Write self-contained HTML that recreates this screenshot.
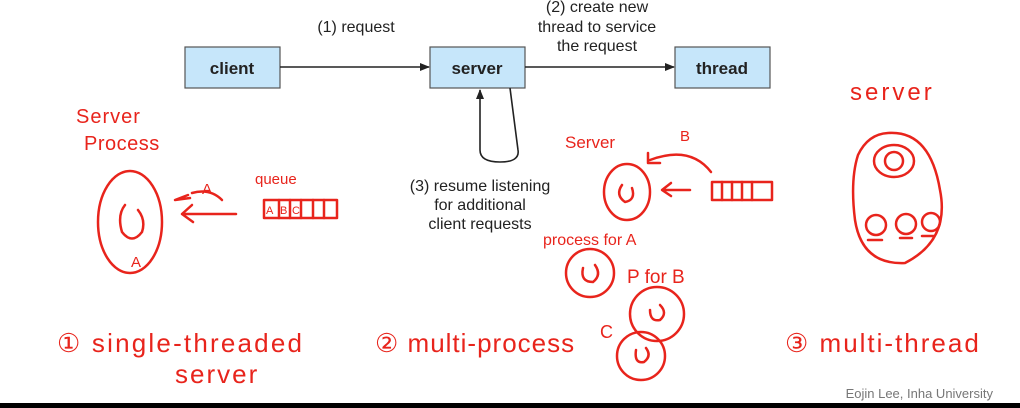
<!DOCTYPE html>
<html><head><meta charset="utf-8"><style>
html,body{margin:0;padding:0;background:#fff}
svg{display:block}
.t{font-family:"Liberation Sans",sans-serif;fill:#222}
.h{font-family:"Liberation Sans",sans-serif;fill:#e8241c;font-weight:normal}
.r{fill:none;stroke:#e8241c;stroke-width:2.5;stroke-linecap:round;stroke-linejoin:round}
</style></head><body>
<svg width="1020" height="408" viewBox="0 0 1020 408" xmlns="http://www.w3.org/2000/svg">
<defs><marker id="ar" markerWidth="10" markerHeight="8" refX="9" refY="4" orient="auto" markerUnits="userSpaceOnUse"><path d="M0,0 L10,4 L0,8 z" fill="#222"/></marker></defs>
<rect x="0" y="0" width="1020" height="408" fill="#fff"/>
<rect x="185" y="47" width="95" height="41" fill="#c6e6fa" stroke="#555" stroke-width="1.2"/>
<rect x="430" y="47" width="95" height="41" fill="#c6e6fa" stroke="#555" stroke-width="1.2"/>
<rect x="675" y="47" width="95" height="41" fill="#c6e6fa" stroke="#555" stroke-width="1.2"/>
<text class="t" x="232" y="74" font-size="17" font-weight="bold" text-anchor="middle">client</text>
<text class="t" x="477" y="74" font-size="17" font-weight="bold" text-anchor="middle">server</text>
<text class="t" x="722" y="74" font-size="17" font-weight="bold" text-anchor="middle">thread</text>
<line x1="280" y1="67" x2="429" y2="67" stroke="#222" stroke-width="1.6" marker-end="url(#ar)"/>
<line x1="525" y1="67" x2="674" y2="67" stroke="#222" stroke-width="1.6" marker-end="url(#ar)"/>
<path d="M510,88 L518,150 Q520,162 500,162 Q480,162 480,150 L480,90" fill="none" stroke="#222" stroke-width="1.6" marker-end="url(#ar)"/>
<g class="t" font-size="16" text-anchor="middle">
<text x="356" y="32">(1) request</text>
<text x="597" y="12">(2) create new</text>
<text x="597" y="32">thread to service</text>
<text x="597" y="51">the request</text>
<text x="480" y="191">(3) resume listening</text>
<text x="480" y="210">for additional</text>
<text x="480" y="229">client requests</text>
</g>
<g class="h" font-size="19">
<text x="76" y="123" font-size="20" letter-spacing="1">Server</text>
<text x="84" y="150" font-size="20" letter-spacing="0.5">Process</text>
<text x="255" y="184" font-size="15">queue</text>
<text x="202" y="194" font-size="15">A</text>
<text x="131" y="267" font-size="15">A</text>
<text x="57" y="352" font-size="26" letter-spacing="2.2">① single-threaded</text>
<text x="175" y="383" font-size="26" letter-spacing="2">server</text>
<text x="375" y="352" font-size="26" letter-spacing="1">② multi-process</text>
<text x="565" y="148" font-size="17">Server</text>
<text x="680" y="141" font-size="15">B</text>
<text x="543" y="245" font-size="16">process for A</text>
<text x="627" y="283" font-size="19">P for B</text>
<text x="600" y="338" font-size="18">C</text>
<text x="850" y="100" font-size="24" letter-spacing="3">server</text>
<text x="785" y="352" font-size="26" letter-spacing="2">③ multi-thread</text>
</g>
<ellipse class="r" cx="130" cy="222" rx="32" ry="51"/>
<path class="r" d="M125,205 Q117,215 122,232 Q132,245 142,232 Q146,220 138,210"/>
<path class="r" d="M236,214 L182,214 M192,205 L182,214 L193,222"/>
<path class="r" d="M190,198 L175,200 L188,195 M222,200 Q210,188 192,193"/>
<rect class="r" x="264" y="200" width="73" height="18" fill="none"/>
<path class="r" d="M279,200 V218 M290,200 V218 M301,200 V218 M313,200 V218 M324,200 V218"/>
<g class="h" font-size="11"><text x="266" y="214">A</text><text x="280" y="214">B</text><text x="292" y="214">C</text></g>
<ellipse class="r" cx="627" cy="192" rx="23" ry="28"/>
<path class="r" d="M622,185 Q615,195 625,202 Q636,200 632,188"/>
<path class="r" d="M690,190 L663,190 M671,183 L662,190 L671,196"/>
<rect class="r" x="712" y="182" width="60" height="18" fill="none"/>
<path class="r" d="M722,182 V200 M732,182 V200 M742,182 V200 M752,182 V200"/>
<path class="r" d="M711,172 Q690,145 650,160 M648,153 L648,163 L660,163"/>
<circle class="r" cx="590" cy="273" r="24"/>
<path class="r" d="M583,268 Q580,282 593,282 Q602,275 595,265"/>
<circle class="r" cx="657" cy="314" r="27"/>
<path class="r" d="M650,310 Q650,322 660,320 Q668,313 660,305"/>
<circle class="r" cx="641" cy="356" r="24"/>
<path class="r" d="M636,350 Q634,364 644,362 Q652,356 646,348"/>
<path class="r" d="M888,133 Q930,130 940,190 Q950,240 905,263 Q862,265 855,220 Q850,180 858,155 Q868,134 888,133 Z"/>
<ellipse class="r" cx="894" cy="161" rx="20" ry="16"/>
<circle class="r" cx="894" cy="161" r="9"/>
<circle class="r" cx="876" cy="225" r="10"/>
<circle class="r" cx="906" cy="224" r="10"/>
<circle class="r" cx="931" cy="222" r="9"/>
<path class="r" d="M868,240 H882 M900,238 H912 M922,236 H934"/>
<text x="993" y="398" text-anchor="end" font-family="Liberation Sans,sans-serif" font-size="13" fill="#777">Eojin Lee, Inha University</text>
<rect x="0" y="403" width="1020" height="5" fill="#000"/>
</svg>
</body></html>
